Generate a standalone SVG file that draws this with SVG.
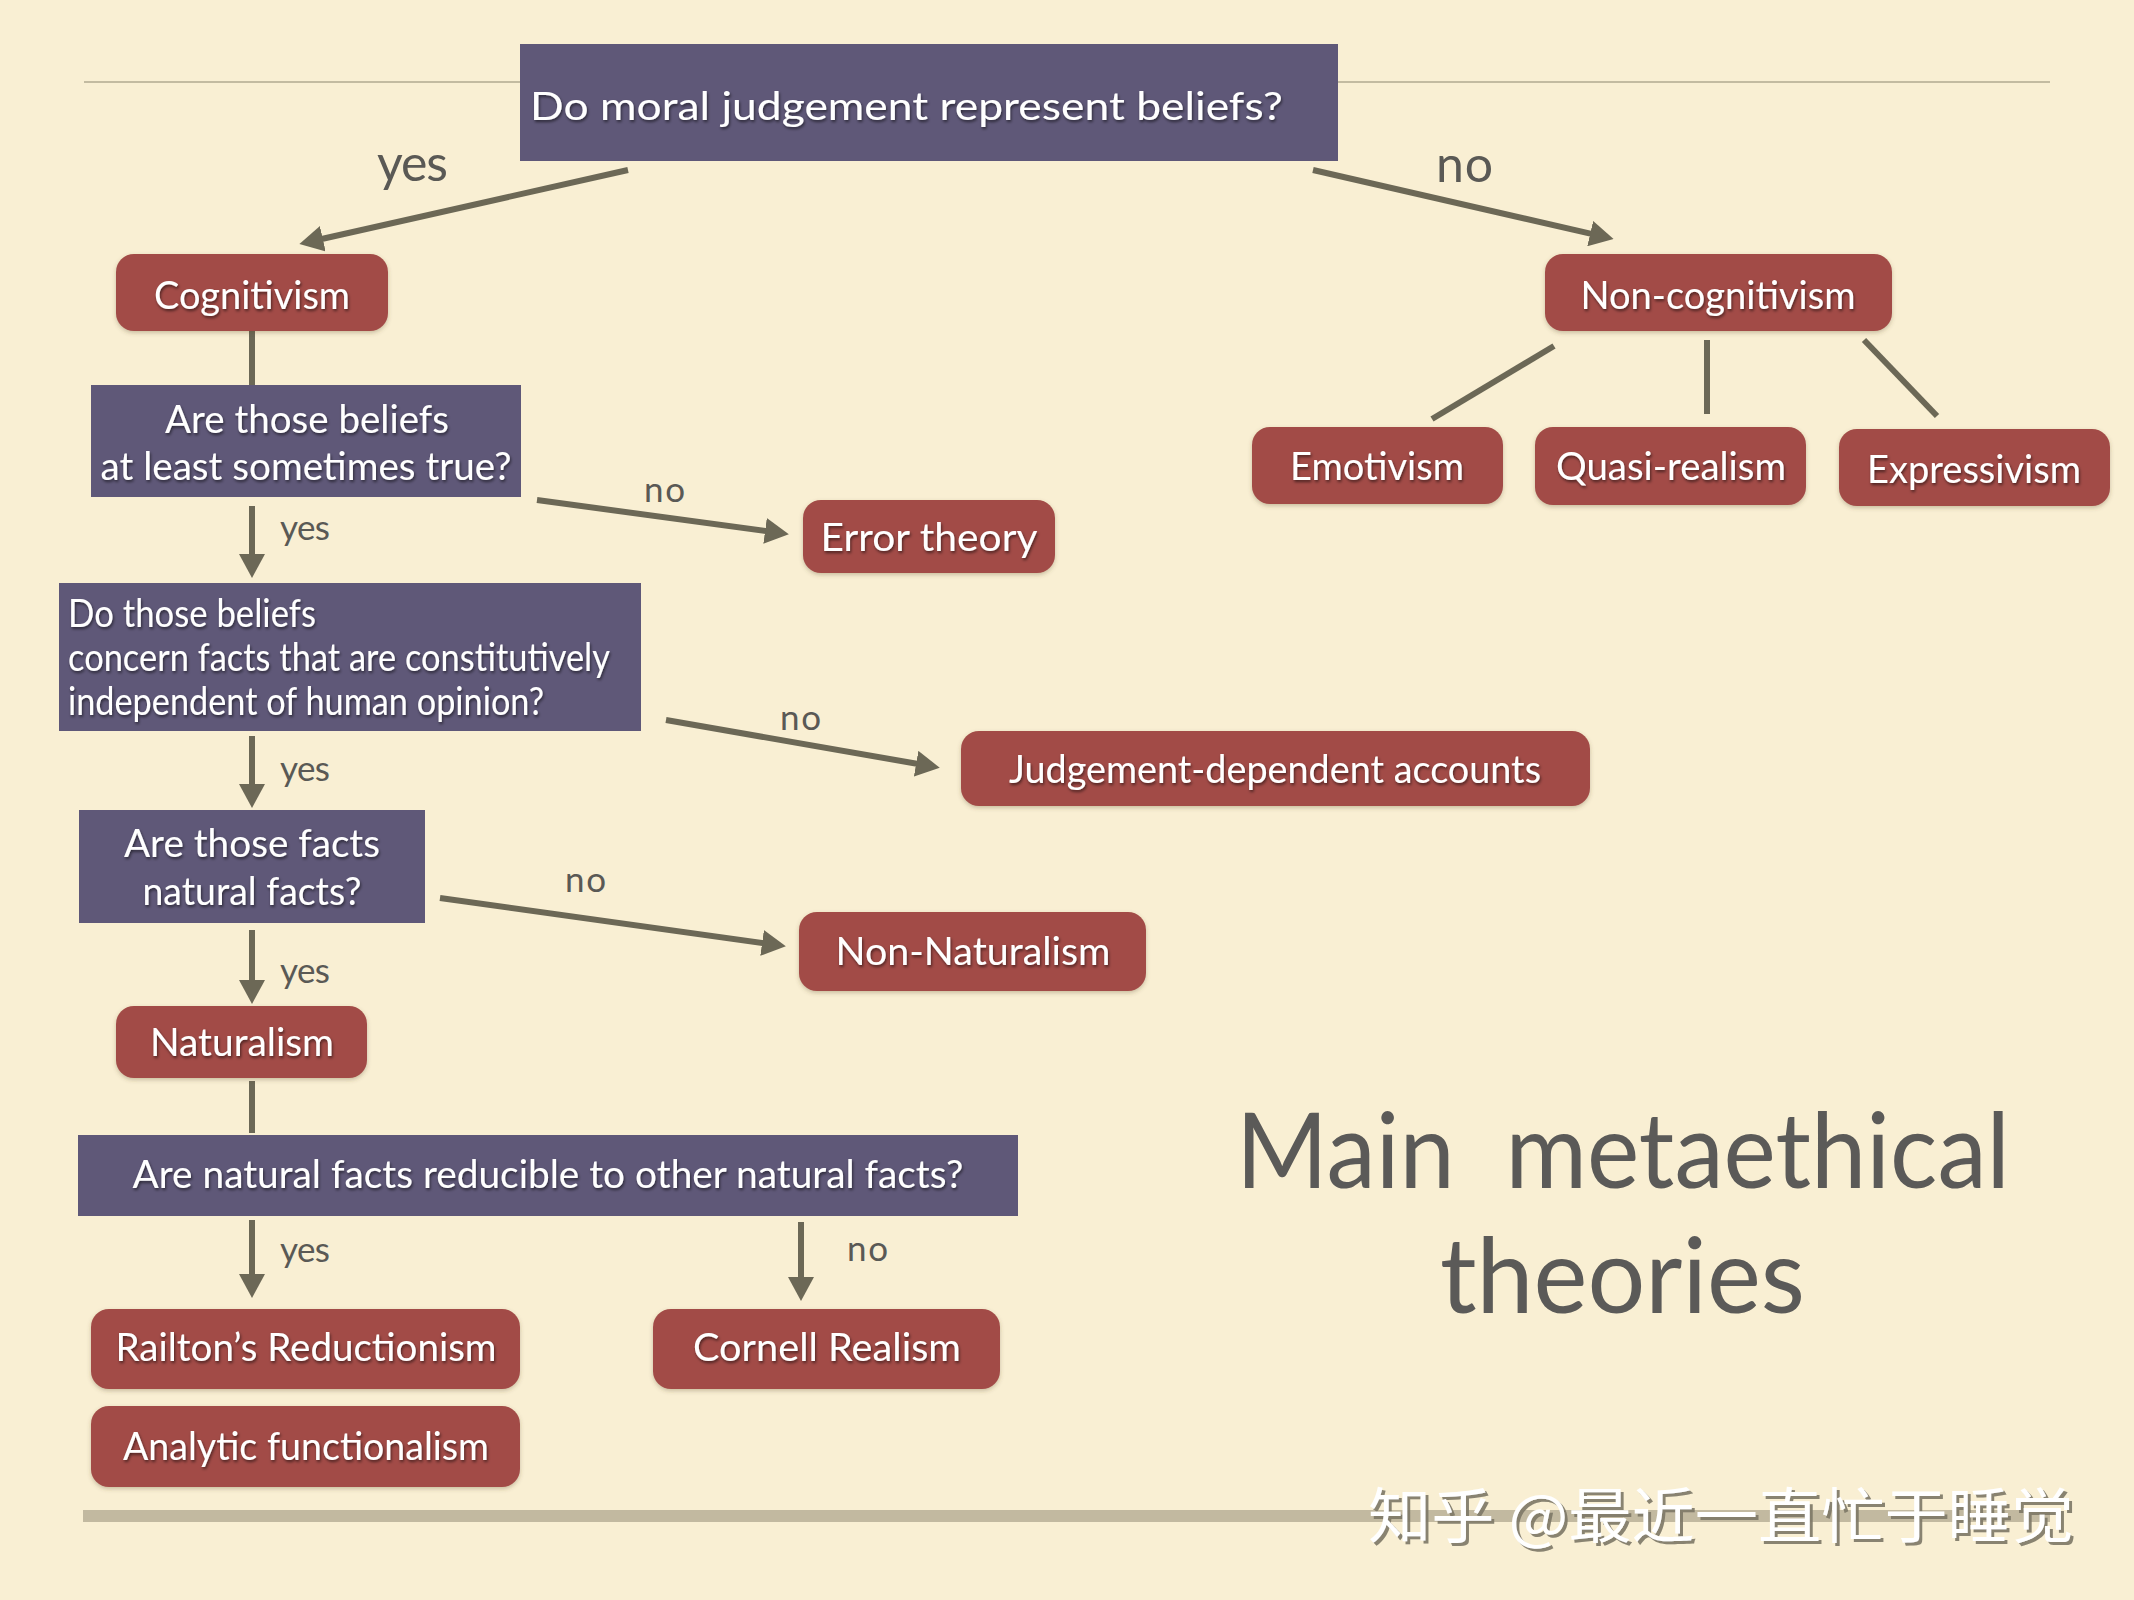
<svg xmlns="http://www.w3.org/2000/svg" width="2134" height="1600" viewBox="0 0 2134 1600">
<defs>
<style>
.q{fill:#5f5878}
.r{fill:#a24b47}
.nt{font-family:Lato,"Liberation Sans",sans-serif;fill:#ffffff;font-size:38px;filter:url(#ts)}
.qt{font-family:Lato,"Liberation Sans",sans-serif;fill:#ffffff;font-size:38px;filter:url(#ts)}
.lb{font-family:Lato,"Liberation Sans",sans-serif;fill:#5a5955;font-size:35px}
.lbb{font-family:Lato,"Liberation Sans",sans-serif;fill:#5a5955;font-size:50px}
.ln{stroke:#6c6856;stroke-width:6;fill:none}
.ar{stroke:#6c6856;stroke-width:6;fill:none;marker-end:url(#ah)}
.title{font-family:Lato,"Liberation Sans",sans-serif;fill:#5b5a58;font-size:104px;white-space:pre}
</style>
<filter id="ts" x="-10%" y="-30%" width="120%" height="160%">
<feDropShadow dx="1" dy="2" stdDeviation="1.5" flood-color="#000" flood-opacity="0.55"/>
</filter>
<filter id="bs" x="-10%" y="-20%" width="120%" height="150%">
<feDropShadow dx="0" dy="2" stdDeviation="2" flood-color="#5a4a30" flood-opacity="0.3"/>
</filter>
<filter id="wm" x="-5%" y="-20%" width="110%" height="150%">
<feDropShadow dx="3" dy="3" stdDeviation="0.6" flood-color="#7d7866" flood-opacity="0.9"/>
</filter>
<marker id="ah" viewBox="0 0 24 26" refX="8" refY="13" markerWidth="24" markerHeight="26" markerUnits="userSpaceOnUse" orient="auto">
<path d="M0,0 L24,13 L0,26 z" fill="#6c6856"/>
</marker>
</defs>
<rect x="0" y="0" width="2134" height="1600" fill="#f9efd3"/>
<line x1="84" y1="82" x2="2050" y2="82" stroke="#c3bba1" stroke-width="2"/>
<rect x="83" y="1510" width="1967" height="12" fill="#c2b9a0"/>

<g id="connectors">
<path class="ar" d="M628,170 L315,240.5"/>
<path class="ar" d="M1313,170 L1598,235.4"/>
<path class="ln" d="M1554,346 L1432,419"/>
<path class="ln" d="M1707,340 L1707,414"/>
<path class="ln" d="M1864,340 L1937,416"/>
<path class="ln" d="M252,331 L252,385"/>
<path class="ar" d="M252,506 L252,562"/>
<path class="ar" d="M537,500 L773,532"/>
<path class="ar" d="M252,736 L252,792"/>
<path class="ar" d="M666,720 L924,765"/>
<path class="ar" d="M252,930 L252,988"/>
<path class="ar" d="M440,898 L770,944"/>
<path class="ln" d="M252,1081 L252,1133"/>
<path class="ar" d="M252,1220 L252,1282"/>
<path class="ar" d="M801,1222 L801,1285"/>
<text class="lbb" x="377" y="181" textLength="71">yes</text>
<text class="lbb" x="1436" y="182" textLength="57">no</text>
<text class="lb" x="280" y="540" textLength="50">yes</text>
<text class="lb" x="644" y="502" textLength="41">no</text>
<text class="lb" x="280" y="781" textLength="50">yes</text>
<text class="lb" x="780" y="730" textLength="41">no</text>
<text class="lb" x="280" y="983" textLength="50">yes</text>
<text class="lb" x="565" y="892" textLength="41">no</text>
<text class="lb" x="280" y="1262" textLength="50">yes</text>
<text class="lb" x="847" y="1261" textLength="41">no</text>
</g>

<g id="q1">
<rect class="q" x="520" y="44" width="818" height="117"/>
<text class="qt" x="530" y="120" font-size="46" textLength="753" lengthAdjust="spacingAndGlyphs">Do moral judgement represent beliefs?</text>
</g>
<g id="cognitivism">
<rect class="r" x="116" y="254" width="272" height="77" rx="18" filter="url(#bs)"/>
<text class="nt" x="252" y="309" text-anchor="middle" textLength="196" lengthAdjust="spacingAndGlyphs">Cognitivism</text>
</g>
<g id="noncognitivism">
<rect class="r" x="1545" y="254" width="347" height="77" rx="18" filter="url(#bs)"/>
<text class="nt" x="1718" y="309" text-anchor="middle" textLength="275" lengthAdjust="spacingAndGlyphs">Non-cognitivism</text>
</g>
<g id="emotivism">
<rect class="r" x="1252" y="427" width="251" height="77" rx="18" filter="url(#bs)"/>
<text class="nt" x="1377" y="480" text-anchor="middle" textLength="174" lengthAdjust="spacingAndGlyphs">Emotivism</text>
</g>
<g id="quasirealism">
<rect class="r" x="1535" y="427" width="271" height="78" rx="18" filter="url(#bs)"/>
<text class="nt" x="1671" y="480" text-anchor="middle" textLength="230" lengthAdjust="spacingAndGlyphs">Quasi-realism</text>
</g>
<g id="expressivism">
<rect class="r" x="1839" y="429" width="271" height="77" rx="18" filter="url(#bs)"/>
<text class="nt" x="1974" y="483" text-anchor="middle" textLength="214" lengthAdjust="spacingAndGlyphs">Expressivism</text>
</g>
<g id="q2">
<rect class="q" x="91" y="385" width="430" height="112"/>
<text class="qt" x="307" y="433" text-anchor="middle" textLength="284" lengthAdjust="spacingAndGlyphs">Are those beliefs</text>
<text class="qt" x="306" y="480" text-anchor="middle" textLength="411" lengthAdjust="spacingAndGlyphs">at least sometimes true?</text>
</g>
<g id="errortheory">
<rect class="r" x="803" y="500" width="252" height="73" rx="18" filter="url(#bs)"/>
<text class="nt" x="929" y="551" text-anchor="middle" textLength="217" lengthAdjust="spacingAndGlyphs">Error theory</text>
</g>
<g id="q3">
<rect class="q" x="59" y="583" width="582" height="148"/>
<text class="qt" x="68" y="627" font-size="34" textLength="248" lengthAdjust="spacingAndGlyphs">Do those beliefs</text>
<text class="qt" x="68" y="671" font-size="34" textLength="542" lengthAdjust="spacingAndGlyphs">concern facts that are constitutively</text>
<text class="qt" x="68" y="715" font-size="34" textLength="476" lengthAdjust="spacingAndGlyphs">independent of human opinion?</text>
</g>
<g id="judgementdependent">
<rect class="r" x="961" y="731" width="629" height="75" rx="18" filter="url(#bs)"/>
<text class="nt" x="1275" y="783" text-anchor="middle" textLength="532" lengthAdjust="spacingAndGlyphs">Judgement-dependent accounts</text>
</g>
<g id="q4">
<rect class="q" x="79" y="810" width="346" height="113"/>
<text class="qt" x="252" y="857" text-anchor="middle" textLength="256" lengthAdjust="spacingAndGlyphs">Are those facts</text>
<text class="qt" x="252" y="905" text-anchor="middle" textLength="219" lengthAdjust="spacingAndGlyphs">natural facts?</text>
</g>
<g id="nonnaturalism">
<rect class="r" x="799" y="912" width="347" height="79" rx="18" filter="url(#bs)"/>
<text class="nt" x="973" y="965" text-anchor="middle" textLength="275" lengthAdjust="spacingAndGlyphs">Non-Naturalism</text>
</g>
<g id="naturalism">
<rect class="r" x="116" y="1006" width="251" height="72" rx="18" filter="url(#bs)"/>
<text class="nt" x="242" y="1056" text-anchor="middle" textLength="184" lengthAdjust="spacingAndGlyphs">Naturalism</text>
</g>
<g id="q5">
<rect class="q" x="78" y="1135" width="940" height="81"/>
<text class="qt" x="548" y="1188" text-anchor="middle" textLength="831" lengthAdjust="spacingAndGlyphs">Are natural facts reducible to other natural facts?</text>
</g>
<g id="railton">
<rect class="r" x="91" y="1309" width="429" height="80" rx="18" filter="url(#bs)"/>
<text class="nt" x="306" y="1361" text-anchor="middle" textLength="381" lengthAdjust="spacingAndGlyphs">Railton’s Reductionism</text>
</g>
<g id="cornell">
<rect class="r" x="653" y="1309" width="347" height="80" rx="18" filter="url(#bs)"/>
<text class="nt" x="827" y="1361" text-anchor="middle" textLength="268" lengthAdjust="spacingAndGlyphs">Cornell Realism</text>
</g>
<g id="analytic">
<rect class="r" x="91" y="1406" width="429" height="81" rx="18" filter="url(#bs)"/>
<text class="nt" x="306" y="1460" text-anchor="middle" textLength="366" lengthAdjust="spacingAndGlyphs">Analytic functionalism</text>
</g>

<g id="title">
<text class="title" x="1236" y="1188" textLength="774" lengthAdjust="spacingAndGlyphs">Main  metaethical</text>
<text class="title" x="1440" y="1313" textLength="365" lengthAdjust="spacingAndGlyphs">theories</text>
</g>
<g id="watermark">
<text x="1368" y="1538" font-family="'Noto Sans CJK SC',sans-serif" font-size="60" fill="#ffffff" filter="url(#wm)" textLength="706" lengthAdjust="spacingAndGlyphs">知乎 @最近一直忙于睡觉</text>
</g>
</svg>
